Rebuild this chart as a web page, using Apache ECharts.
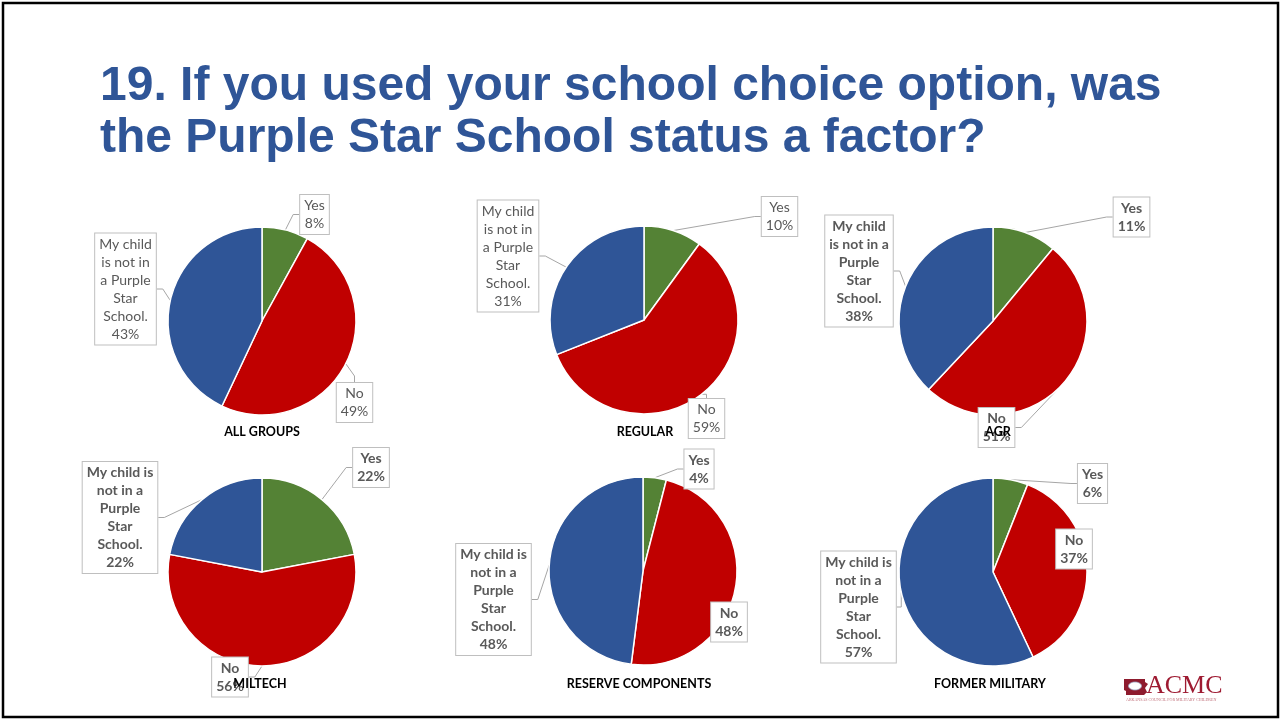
<!DOCTYPE html>
<html><head><meta charset="utf-8">
<script src="https://cdn.jsdelivr.net/npm/echarts@6/dist/echarts.min.js"></script>
<style>html,body{margin:0;padding:0;background:#fff}#c{width:1281px;height:721px}</style>
</head><body><div id="c"></div>
<script>
// ---- data ----
const categories = ['Yes', 'No', 'My child is not in a Purple Star School.'];
const groups = ['ALL GROUPS', 'REGULAR', 'AGR', 'MILTECH', 'RESERVE COMPONENTS', 'FORMER MILITARY'];
const yesValues = [8, 10, 11, 22, 4, 6];
const noValues = [49, 59, 51, 56, 48, 37];
const notPurpleValues = [43, 31, 38, 22, 48, 57];
const titleText = '19. If you used your school choice option, was\nthe Purple Star School status a factor?';

// ---- layout / style config ----
const pieCenters = [[262, 321], [644, 320], [993, 321], [262, 572], [643, 571], [993, 572]];
const pieRadius = 94;
const groupLabelPos = [[262, 432], [645, 432], [998, 432], [260, 684], [639, 684], [990, 684]];
const labelBoxCenters = [
  [[314.5, 214.5], [354.5, 402.5], [125.5, 289]],
  [[779.5, 216.5], [706.5, 418.5], [508, 256]],
  [[1131.5, 217], [996.5, 427.5], [859, 271]],
  [[371, 467.5], [230, 677], [120, 517.5]],
  [[699, 469], [729, 622], [493.5, 599.5]],
  [[1092.5, 483.5], [1074, 549], [858.5, 607]]
];
const boldLabels = [false, false, true, true, true, true];
const wordBreaks = [[2,3,2,1,1],[2,3,2,1,1],[2,4,1,1,1],[3,3,1,1,1],[3,3,1,1,1],[3,3,1,1,1]];
const hideLine = [[], [], [], [], [], [1]];
const colors = ['#548235', '#C00000', '#2F5597'];

function wrapName(name, breaks) {
  const words = name.split(' ');
  const lines = []; let i = 0;
  breaks.forEach(n => { lines.push(words.slice(i, i + n).join(' ')); i += n; });
  if (i < words.length) lines.push(words.slice(i).join(' '));
  return lines.join('\n');
}

const series = groups.map((g, gi) => {
  const vals = [yesValues[gi], noValues[gi], notPurpleValues[gi]];
  return {
    type: 'pie',
    name: g,
    center: pieCenters[gi],
    radius: pieRadius,
    startAngle: 90,
    clockwise: true,
    avoidLabelOverlap: false,
    silent: true,
    itemStyle: { borderColor: '#ffffff', borderWidth: 1.5 },
    label: {
      show: true,
      position: 'outside',
      color: '#595959',
      fontFamily: 'Lato, "Open Sans", sans-serif',
      fontSize: 14,
      fontWeight: boldLabels[gi] ? 'bold' : 'normal',
      lineHeight: 18,
      align: 'center',
      backgroundColor: '#ffffff',
      borderColor: '#BFBFBF',
      borderWidth: 1,
      padding: [2, 4, 1, 4],
      formatter: p => (p.dataIndex === 2 ? wrapName(p.name, wordBreaks[gi]) : p.name) + '\n' + p.value + '%'
    },
    labelLine: { show: true, length: 6, length2: 6, lineStyle: { color: '#A6A6A6', width: 1 } },
    labelLayout: params => {
      const c = labelBoxCenters[gi][params.dataIndex];
      return { x: c[0], y: c[1], align: 'center', verticalAlign: 'middle' };
    },
    data: categories.map((c, ci) => {
      const item = { name: c, value: vals[ci], itemStyle: { color: colors[ci] } };
      if (hideLine[gi].indexOf(ci) >= 0) item.labelLine = { show: false };
      return item;
    })
  };
});

const titles = [{
  text: titleText,
  left: 100, top: 61,
  padding: 0,
  textStyle: { color: '#2F5597', fontFamily: '"Liberation Sans", Arial, sans-serif', fontWeight: 'bold', fontSize: 48, lineHeight: 52 }
}].concat(groups.map((g, gi) => ({
  text: g,
  left: groupLabelPos[gi][0], top: groupLabelPos[gi][1],
  textAlign: 'center', textVerticalAlign: 'middle',
  padding: 0,
  textStyle: { color: '#000000', fontFamily: 'Lato, "Open Sans", sans-serif', fontWeight: 'bold', fontSize: 12.5 }
})));

const chart = echarts.init(document.getElementById('c'), null, { renderer: 'canvas' });
chart.setOption({
  animation: false,
  backgroundColor: '#ffffff',
  title: titles,
  series: series,
  graphic: [
    { type: 'rect', shape: { x: 3, y: 3, width: 1275, height: 714 }, style: { fill: 'none', stroke: '#000000', lineWidth: 2.5 }, z: 100 },
    { type: 'group', left: 1124, top: 673, children: [
      { type: 'polygon', shape: { points: [[1,3],[22,3],[22,6],[25,8],[22,12],[24,16],[21,19],[3,19],[3,15],[1,14]] }, style: { fill: '#8E1B2E' } },
      { type: 'ellipse', shape: { cx: 12, cy: 10, rx: 6.5, ry: 4 }, style: { fill: '#ffffff', stroke: '#9aa4c4', lineWidth: 0.8 } },
      { type: 'text', x: 23, y: -3, style: { text: 'ACMC', fill: '#9E1B32', font: '26px "Liberation Serif", "DejaVu Serif", serif' } },
      { type: 'text', x: 3, y: 22, style: { text: 'ARKANSAS COUNCIL FOR MILITARY CHILDREN', fill: '#C0707A', font: '4px "Liberation Serif", serif' } }
    ] }
  ]
});
</script>
</body></html>
